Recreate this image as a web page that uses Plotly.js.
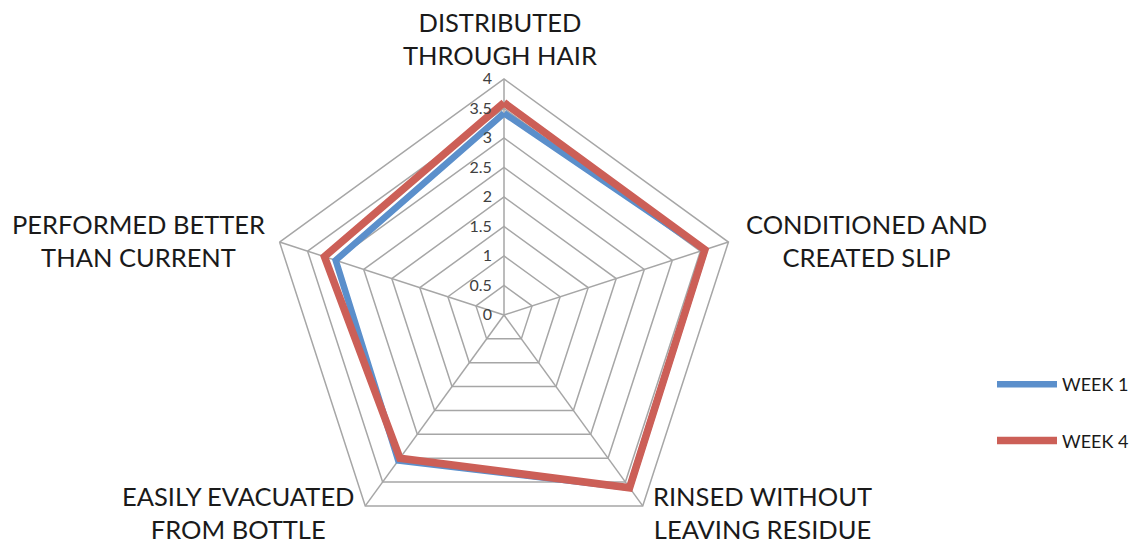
<!DOCTYPE html>
<html><head><meta charset="utf-8">
<script src="https://cdn.plot.ly/plotly-3.0.1.min.js"></script>
<style>html,body{margin:0;padding:0;overflow:hidden;background:#fff;}#chart{width:1144px;height:551px;}</style>
</head><body><div id="chart"></div>
<script>
var categories = ["DISTRIBUTED THROUGH HAIR", "CONDITIONED AND CREATED SLIP", "RINSED WITHOUT LEAVING RESIDUE", "EASILY EVACUATED FROM BOTTLE", "PERFORMED BETTER THAN CURRENT"];
var categoryLabels = ["DISTRIBUTED<br>THROUGH HAIR", "CONDITIONED AND<br>CREATED SLIP", "RINSED WITHOUT<br>LEAVING RESIDUE", "EASILY EVACUATED<br>FROM BOTTLE", "PERFORMED BETTER<br>THAN CURRENT"];
var week1 = [3.42, 3.58, 3.62, 3.05, 3.0];
var week4 = [3.6, 3.58, 3.62, 3.0, 3.2];
var seriesNames = ["WEEK 1", "WEEK 4"];
var radialTicks = [0, 0.5, 1, 1.5, 2, 2.5, 3, 3.5, 4];

function closed(a){ return a.concat([a[0]]); }

var W = 1144, H = 551;
var cx = 504, cy = 315, R = 236;

var traces = [
  {type:'scatterpolar', mode:'lines', name:seriesNames[0], r:closed(week1), theta:closed(categories),
   line:{color:'#5B8FCB', width:6.5}, legendgroup:'a'},
  {type:'scatterpolar', mode:'lines', name:seriesNames[1], r:closed(week4), theta:closed(categories),
   line:{color:'#CC5F57', width:7.5}, legendgroup:'b'}
];

var labelPos = [[500,38],[866,241],[762,512],[238,512],[138,241]];
var annotations = categoryLabels.map(function(t,i){
  return {text:t, xref:'paper', yref:'paper', x:labelPos[i][0]/W, y:1-labelPos[i][1]/H,
    xanchor:'center', yanchor:'middle', showarrow:false, align:'center',
    font:{family:'Lato, sans-serif', size:25.5, color:'#1a1a1a'}};
});

var layout = {
  width:W, height:H, margin:{l:0,r:0,t:0,b:0}, paper_bgcolor:'#fff', plot_bgcolor:'#fff',
  showlegend:true,
  legend:{x:992/W, y:1-366/H, xanchor:'left', yanchor:'top', font:{family:'Lato, sans-serif', size:18, color:'#1a1a1a'},
    itemwidth:60, traceorder:'grouped', tracegroupgap:30, bgcolor:'rgba(0,0,0,0)'},
  annotations:annotations,
  polar:{
    domain:{x:[(cx-R)/W,(cx+R)/W], y:[1-(cy+R)/H, 1-(cy-R)/H]},
    gridshape:'linear', bgcolor:'#fff',
    angularaxis:{rotation:90, direction:'clockwise', showticklabels:false, ticks:'',
      showline:true, linecolor:'#A6A6A6', linewidth:1.5, gridcolor:'#A6A6A6', gridwidth:1.5, showgrid:true},
    radialaxis:{range:[0,4], tickvals:radialTicks, ticktext:radialTicks.map(String), angle:90, tickangle:90,
      showline:false, ticks:'outside', ticklen:6, tickcolor:'rgba(0,0,0,0)', gridcolor:'#A6A6A6', gridwidth:1.5, side:'counterclockwise',
      tickfont:{family:'Lato, sans-serif', size:16, color:'#404040'}}
  }
};
Plotly.newPlot('chart', traces, layout, {displayModeBar:false, staticPlot:true});
</script></body></html>
